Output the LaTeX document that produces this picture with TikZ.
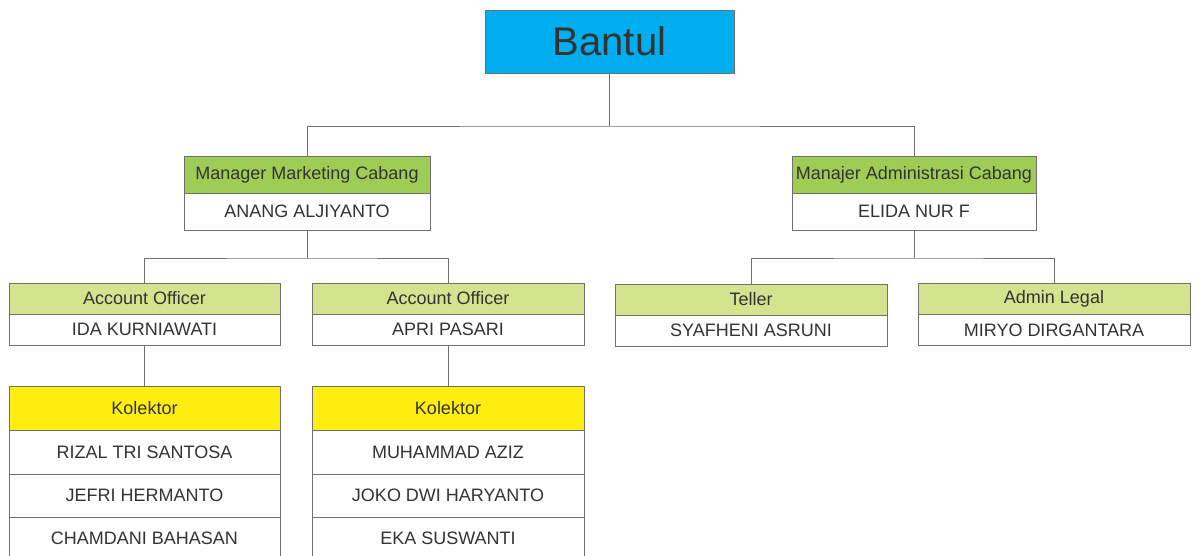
\documentclass[tikz,border=0pt]{standalone}
\usepackage{fontspec}
\setmainfont{Liberation Sans}
\definecolor{linegray}{HTML}{707070}
\definecolor{textgray}{HTML}{333333}
\definecolor{bantulblue}{HTML}{00AEEF}
\definecolor{mgrgreen}{HTML}{9FCC55}
\definecolor{staffgreen}{HTML}{D4E38D}
\definecolor{kolyellow}{HTML}{FFEE10}
\tikzset{
  cell/.style={draw=linegray, line width=0.8pt, inner sep=0pt, text=textgray, font=\fontsize{18}{20}\selectfont},
  mgrhead/.style={cell, fill=mgrgreen, minimum height=37pt},
  mgrname/.style={cell, fill=white, minimum height=37pt},
  staffhead/.style={cell, fill=staffgreen, minimum height=31pt},
  staffname/.style={cell, fill=white, minimum height=31pt},
  kolhead/.style={cell, fill=kolyellow, minimum height=44pt},
  kolname/.style={cell, fill=white, minimum height=43pt},
  wire/.style={draw=linegray, line width=0.8pt}
}
\begin{document}
\begin{tikzpicture}[x=1pt, y=-1pt]
    \useasboundingbox[fill=white] (0, 0) rectangle (1197, 556);
    % top
    \node[cell, fill=bantulblue, minimum width=249pt, minimum height=63pt, font=\fontsize{40}{44}\selectfont] (bantul) at (609.5, 41.5) {Bantul};
    % managers
    \node[mgrhead, minimum width=246pt] (mmchead) at (307, 174.5) {Manager Marketing Cabang};
    \node[mgrname, minimum width=246pt] (mmcname) at (307, 211.5) {ANANG ALJIYANTO};
    \node[mgrhead, minimum width=244pt] (machead) at (914, 174.5) {Manajer Administrasi Cabang};
    \node[mgrname, minimum width=244pt] (macname) at (914, 211.5) {ELIDA NUR F};
    % staff
    \node[staffhead, minimum width=271pt] (ao1head) at (144.5, 298.5) {Account Officer};
    \node[staffname, minimum width=271pt] (ao1name) at (144.5, 329.5) {IDA KURNIAWATI};
    \node[staffhead, minimum width=272pt] (ao2head) at (448, 298.5) {Account Officer};
    \node[staffname, minimum width=272pt] (ao2name) at (448, 329.5) {APRI PASARI};
    \node[staffhead, minimum width=272pt] (tellerhead) at (751, 299.5) {Teller};
    \node[staffname, minimum width=272pt] (tellername) at (751, 330.5) {SYAFHENI ASRUNI};
    \node[staffhead, minimum width=272pt] (legalhead) at (1054, 298.5) {Admin Legal};
    \node[staffname, minimum width=272pt] (legalname) at (1054, 330) {MIRYO DIRGANTARA};
    % kolektor
    \node[kolhead, minimum width=271pt] (kol1head) at (144.5, 408) {Kolektor};
    \node[kolname, minimum width=271pt, minimum height=44pt] (kol1a) at (144.5, 452) {RIZAL TRI SANTOSA};
    \node[kolname, minimum width=271pt] (kol1b) at (144.5, 495.5) {JEFRI HERMANTO};
    \node[kolname, minimum width=271pt] (kol1c) at (144.5, 538.5) {CHAMDANI BAHASAN};
    \node[kolhead, minimum width=272pt] (kol2head) at (448, 408) {Kolektor};
    \node[kolname, minimum width=272pt, minimum height=44pt] (kol2a) at (448, 452) {MUHAMMAD AZIZ};
    \node[kolname, minimum width=272pt] (kol2b) at (448, 495.5) {JOKO DWI HARYANTO};
    \node[kolname, minimum width=272pt] (kol2c) at (448, 538.5) {EKA SUSWANTI};
    % connectors
    \coordinate (topsplit) at (609.5, 126);
    \coordinate (mmcsplit) at (307, 258);
    \coordinate (macsplit) at (914, 258);
    \draw[wire] (bantul.south) -- (topsplit);
    \draw[wire] (mmchead.north) |- (topsplit) -| (machead.north);
    \draw[wire] (mmcname.south) -- (mmcsplit);
    \draw[wire] (ao1head.north) |- (mmcsplit) -| (ao2head.north);
    \draw[wire] (macname.south) -- (macsplit);
    \draw[wire] (tellerhead.north) |- (macsplit) -| (legalhead.north);
    \draw[wire] (ao1name.south) -- (kol1head.north);
    \draw[wire] (ao2name.south) -- (kol2head.north);
\end{tikzpicture}
\end{document}
